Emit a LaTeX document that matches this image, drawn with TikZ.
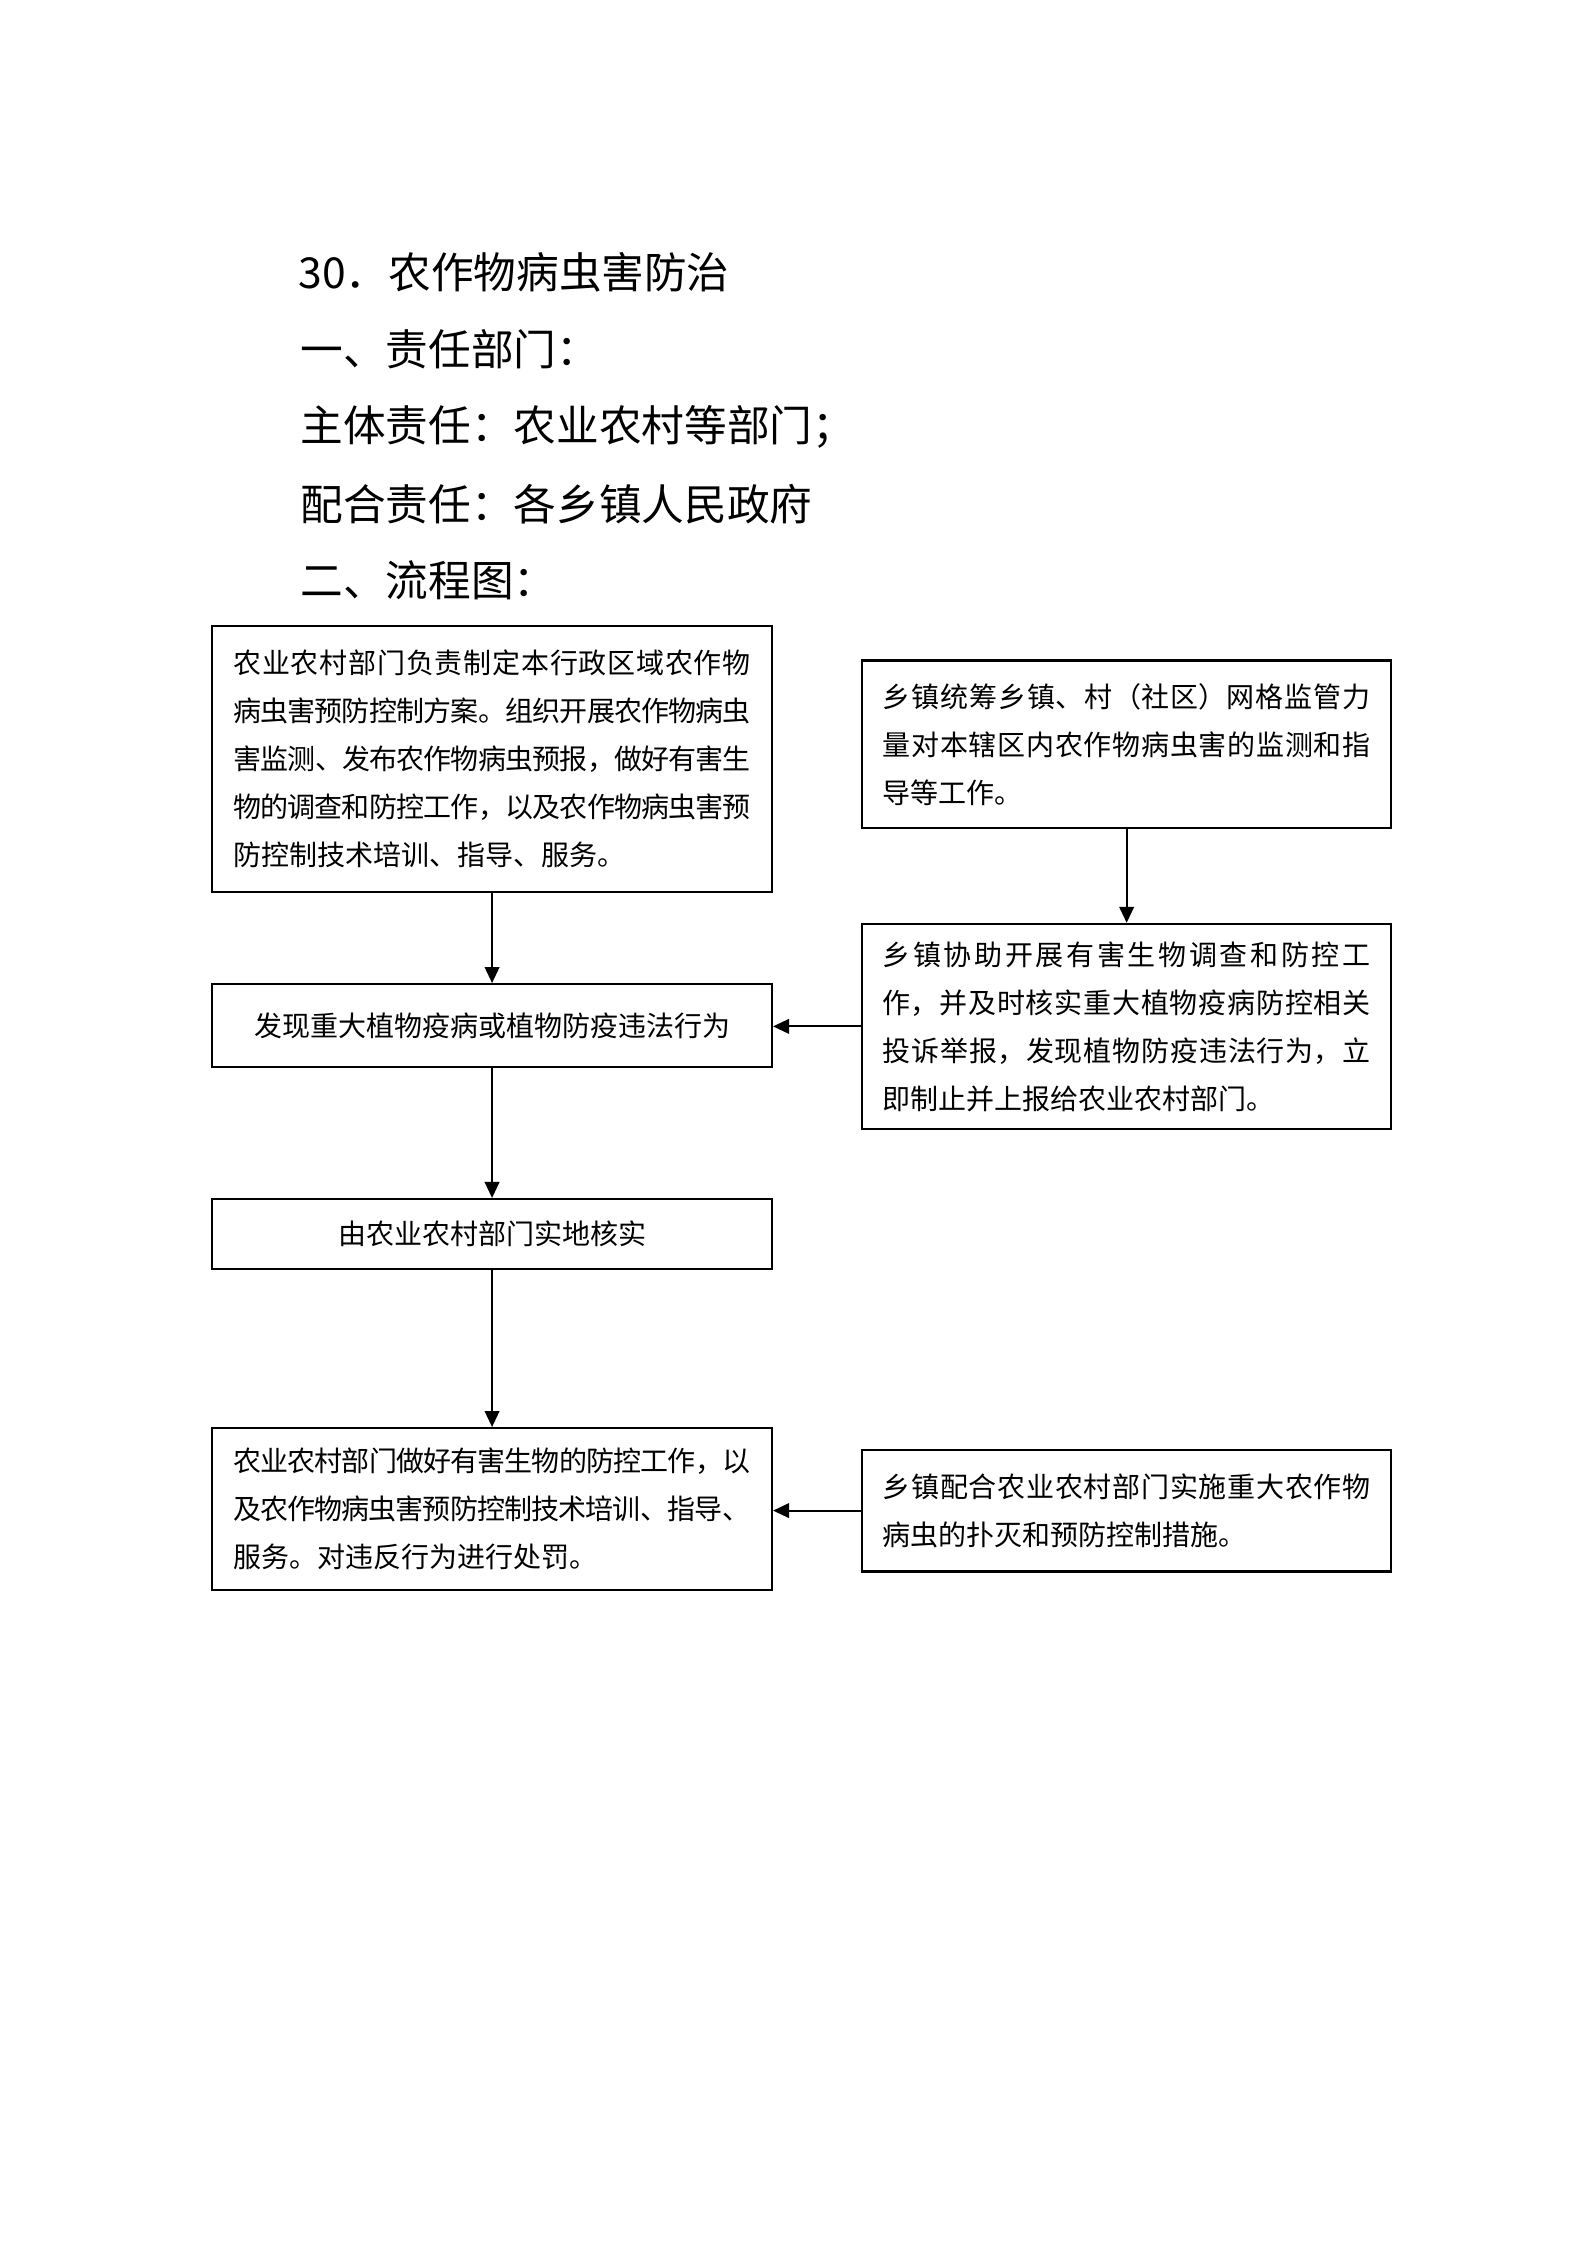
\documentclass[tikz,border=0pt]{standalone}
\usepackage{fontspec}
\setmainfont{Noto Sans CJK SC}
\usetikzlibrary{
    arrows.meta,
    positioning
}
\XeTeXlinebreaklocale "zh"
\XeTeXlinebreakskip=0pt plus 2pt minus 0.5pt

\begin{document}
\begin{tikzpicture}[x=1pt, y=-1pt,
    box/.style={draw, line width=0.8pt, font=\fontsize{10.5}{18}\selectfont, inner ysep=0pt, align=justify},
    wide/.style={box, text width=194pt, inner xsep=8pt},
    narrow/.style={box, text width=183pt, inner xsep=7.65pt},
    head/.style={anchor=west, inner sep=0pt, font=\fontsize{16}{16}\selectfont},
    flow/.style={-{Triangle[length=6pt, width=5.5pt]}, line width=0.7pt}]
                                \useasboundingbox (0,0) rectangle (595.3,842);
                                % heading
                                \node[head] (title) at (111.7,102) {30．农作物病虫害防治};
                                \node[head] (dept) at (112.5,131) {一、责任部门：};
                                \node[head] (main) at (112.5,160) {主体责任：农业农村等部门；};
                                \node[head] (assoc) at (112.5,189) {配合责任：各乡镇人民政府};
                                \node[head] (chart) at (112.5,217.6) {二、流程图：};
                                % left column
                                \node[wide, minimum height=99.9pt] (plan) at (184.55,284.75) {农业农村部门负责制定本行政区域农作物\linebreak 病虫害预防控制方案。组织开展农作物病虫\linebreak 害监测、发布农作物病虫预报，做好有害生\linebreak 物的调查和防控工作，以及农作物病虫害预\linebreak 防控制技术培训、指导、服务。};
                                \node[wide, minimum height=31.2pt, align=flush center] (found) at (184.55,384.7) {发现重大植物疫病或植物防疫违法行为};
                                \node[wide, minimum height=26.3pt, align=flush center] (verify) at (184.55,462.85) {由农业农村部门实地核实};
                                \node[wide, minimum height=60.8pt] (handle) at (184.55,566) {农业农村部门做好有害生物的防控工作，以\linebreak 及农作物病虫害预防控制技术培训、指导、\linebreak 服务。对违反行为进行处罚。};
                                % right column
                                \node[narrow, minimum height=62.8pt] (grid) at (422.55,279.1) {乡镇统筹乡镇、村（社区）网格监管力\linebreak 量对本辖区内农作物病虫害的监测和指\linebreak 导等工作。};
                                \node[narrow, minimum height=76.9pt] (assist) at (422.55,384.95) {乡镇协助开展有害生物调查和防控工\linebreak 作，并及时核实重大植物疫病防控相关\linebreak 投诉举报，发现植物防疫违法行为，立\linebreak 即制止并上报给农业农村部门。};
                                \node[narrow, minimum height=45.7pt] (coop) at (422.55,566.55) {乡镇配合农业农村部门实施重大农作物\linebreak 病虫的扑灭和预防控制措施。};
                                \draw[flow] (plan) -- (found);
                                \draw[flow] (found) -- (verify);
                                \draw[flow] (verify) -- (handle);
                                \draw[flow] (grid) -- (assist);
                                \draw[flow] (assist.west) -- (assist.west -| found.east);
                                \draw[flow] (coop.west) -- (coop.west -| handle.east);
                            \end{tikzpicture}
\end{document}
